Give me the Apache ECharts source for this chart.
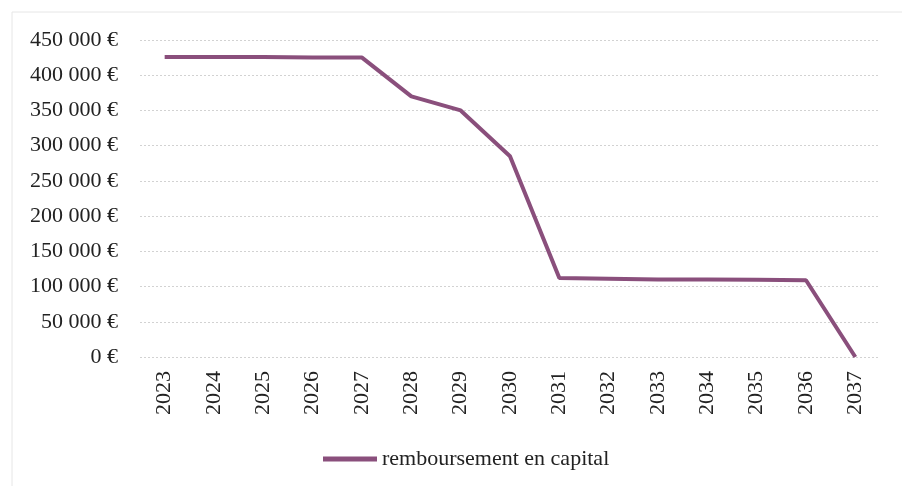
<!DOCTYPE html>
<html>
<head>
<meta charset="utf-8">
<script src="https://cdn.jsdelivr.net/npm/echarts@6/dist/echarts.min.js"></script>
<style>html,body{margin:0;padding:0;background:#fff;}#c{width:902px;height:486px;}</style>
</head>
<body>
<div id="c"></div>
<script>
var years = ['2023','2024','2025','2026','2027','2028','2029','2030','2031','2032','2033','2034','2035','2036','2037'];
var capital = [426000, 426000, 426000, 425000, 425000, 370000, 350000, 285000, 112000, 111000, 110000, 110000, 109500, 109000, 0];
var seriesName = 'remboursement en capital';

var chart = echarts.init(document.getElementById('c'));
chart.setOption({
  backgroundColor: '#fff',
  animation: false,
  textStyle: { fontFamily: 'Liberation Serif' },
  graphic: [{
    type: 'rect', shape: { x: 12, y: 12, width: 892, height: 480 },
    style: { fill: 'none', stroke: '#e6e6e6', lineWidth: 1 }
  }],
  grid: { left: 140, right: 22, top: 40, bottom: 129 },
  legend: {
    top: 443, left: 318,
    data: [{ name: seriesName, icon: 'rect' }],
    itemWidth: 54, itemHeight: 5, itemGap: 4,
    textStyle: { fontFamily: 'Liberation Serif', fontSize: 22, color: '#222' }
  },
  xAxis: {
    type: 'category', data: years, boundaryGap: true,
    axisLine: { show: false }, axisTick: { show: false },
    axisLabel: { rotate: 90, fontSize: 22, color: '#222', fontFamily: 'Liberation Serif', margin: 14, interval: 0 }
  },
  yAxis: {
    type: 'value', min: 0, max: 450000, interval: 50000,
    axisLine: { show: false }, axisTick: { show: false },
    splitLine: { lineStyle: { color: '#d2d2d2', type: [2, 2], width: 1 } },
    axisLabel: {
      fontSize: 22, color: '#222', fontFamily: 'Liberation Serif', margin: 22,
      formatter: function (v) {
        if (v === 0) return '0 €';
        return (v / 1000) + ' 000 €';
      }
    }
  },
  series: [{
    name: seriesName, type: 'line', data: capital,
    symbol: 'none',
    lineStyle: { color: '#8a4f7c', width: 4 },
    itemStyle: { color: '#8a4f7c' }
  }]
});
</script>
</body>
</html>
